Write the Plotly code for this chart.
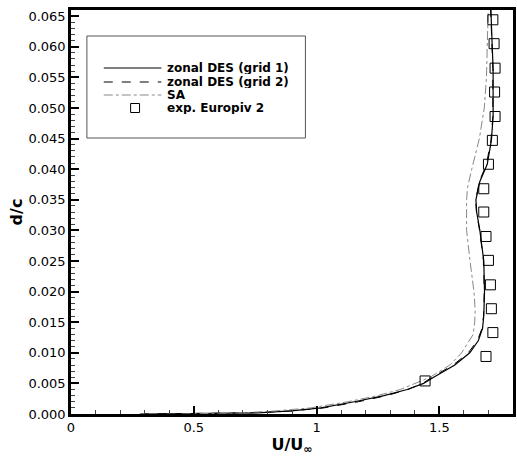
import plotly.graph_objects as go

# ---- data ----
grid1_d = [0, 0.0002, 0.0005, 0.001, 0.002, 0.003, 0.004, 0.005, 0.006, 0.008, 0.010, 0.012, 0.014, 0.016,
           0.020, 0.025, 0.030, 0.033, 0.035, 0.038, 0.0408, 0.0447, 0.0486, 0.0526, 0.0565, 0.0605, 0.066]
grid1_u = [0.30, 0.76, 0.897, 1.018, 1.154, 1.275, 1.369, 1.436, 1.477, 1.563, 1.624, 1.659, 1.676, 1.681,
           1.684, 1.681, 1.665, 1.652, 1.649, 1.665, 1.695, 1.712, 1.719, 1.719, 1.719, 1.715, 1.710]

grid2_d = grid1_d
grid2_u = [0.28, 0.74, 0.90, 1.03, 1.17, 1.285, 1.372, 1.432, 1.47, 1.556, 1.618, 1.655, 1.674, 1.680,
           1.683, 1.680, 1.664, 1.651, 1.648, 1.663, 1.692, 1.710, 1.718, 1.719, 1.718, 1.714, 1.709]

sa_d = [0, 0.0002, 0.0005, 0.001, 0.002, 0.003, 0.004, 0.006, 0.008, 0.010, 0.013, 0.015, 0.017, 0.020,
        0.025, 0.030, 0.035, 0.037, 0.040, 0.045, 0.050, 0.055, 0.060, 0.066]
sa_u = [0.45, 0.70, 0.83, 0.977, 1.127, 1.248, 1.341, 1.462, 1.543, 1.591, 1.638, 1.644, 1.646, 1.641,
        1.625, 1.611, 1.611, 1.615, 1.632, 1.663, 1.683, 1.692, 1.695, 1.699]

exp_u = [1.442, 1.690, 1.718, 1.712, 1.708, 1.700, 1.690, 1.681, 1.681, 1.700, 1.716, 1.727, 1.725, 1.727, 1.723, 1.718]
exp_d = [0.0054, 0.0094, 0.0133, 0.0172, 0.0211, 0.0251, 0.0290, 0.0330, 0.0368, 0.0408, 0.0447, 0.0486,
         0.0526, 0.0565, 0.0605, 0.0644]

legend_labels = ["zonal DES (grid 1)", "zonal DES (grid 2)", "SA", "exp. Europiv 2"]
x_ticks = [0, 0.5, 1, 1.5]
y_ticks = [0.000, 0.005, 0.010, 0.015, 0.020, 0.025, 0.030, 0.035, 0.040, 0.045, 0.050, 0.055, 0.060, 0.065]

FONT = "DejaVu Sans"

fig = go.Figure()
fig.add_trace(go.Scatter(x=grid1_u, y=grid1_d, mode="lines", line=dict(color="black", width=1.2),
                         name=legend_labels[0], showlegend=False))
fig.add_trace(go.Scatter(x=grid2_u, y=grid2_d, mode="lines", line=dict(color="black", width=1, dash="dash"),
                         name=legend_labels[1], showlegend=False))
fig.add_trace(go.Scatter(x=sa_u, y=sa_d, mode="lines", line=dict(color="#888888", width=1, dash="dashdot"),
                         name=legend_labels[2], showlegend=False))
fig.add_trace(go.Scatter(x=exp_u, y=exp_d, mode="markers",
                         marker=dict(symbol="square-open", size=10, color="black", line=dict(width=1)),
                         name=legend_labels[3], showlegend=False))

# ---- manual legend (paper coords) ----
L, R, T, B = 71, 516, 10, 414
def px(x):
    return (x - L) / (R - L)
def py(y):
    return (B - y) / (B - T)

shapes = [dict(type="rect", xref="paper", yref="paper", x0=px(87), x1=px(307), y0=py(138), y1=py(36),
               line=dict(color="#555555", width=1), fillcolor="white", layer="below")]
rows = [68, 82, 95, 108]
styles = [dict(color="black", width=1.2), dict(color="black", width=1, dash="dash"),
          dict(color="#888888", width=1, dash="dashdot")]
for yy, st in zip(rows[:3], styles):
    shapes.append(dict(type="line", xref="paper", yref="paper", x0=px(104), x1=px(162), y0=py(yy), y1=py(yy),
                       line=st))
shapes.append(dict(type="rect", xref="paper", yref="paper", x0=px(131), x1=px(140), y0=py(rows[3] + 4.5),
                   y1=py(rows[3] - 4.5), line=dict(color="black", width=1)))

annotations = []
for yy, lab in zip(rows, legend_labels):
    annotations.append(dict(xref="paper", yref="paper", x=px(167), y=py(yy), text="<b>" + lab + "</b>",
                            showarrow=False, xanchor="left", yanchor="middle", height=12, valign="middle",
                            borderpad=0,
                            font=dict(family=FONT, size=12, color="black")))

fig.update_layout(
    width=517, height=456,
    margin=dict(l=L, r=517 - R, t=T, b=456 - B),
    paper_bgcolor="white", plot_bgcolor="white",
    shapes=shapes, annotations=annotations,
    font=dict(family=FONT, color="black"),
    xaxis=dict(range=[0, 1.8], tickvals=x_ticks, ticks="inside", ticklen=8, tickwidth=2, tickcolor="black",
               showline=True, linecolor="black", linewidth=2.5, mirror=True, showgrid=False, zeroline=False,
               tickfont=dict(family=FONT, size=13, color="black"),
               minor=dict(dtick=0.1, ticks="inside", ticklen=4, tickwidth=1, tickcolor="#444444", showgrid=False),
               title=dict(text="<b>U/U<sub>∞</sub></b>", font=dict(family=FONT, size=16, color="black"), standoff=4)),
    yaxis=dict(range=[0, 0.066], tickvals=y_ticks, tickformat=".3f", ticks="inside", ticklen=8, tickwidth=2,
               tickcolor="black", showline=True, linecolor="black", linewidth=2.5, mirror=True, showgrid=False,
               zeroline=False, tickfont=dict(family=FONT, size=13, color="black"),
               minor=dict(dtick=0.001, ticks="inside", ticklen=4, tickwidth=1, tickcolor="#444444", showgrid=False),
               title=dict(text="<b>d/c</b>", font=dict(family=FONT, size=16, color="black"), standoff=2)),
)

fig.write_html("out.html")
